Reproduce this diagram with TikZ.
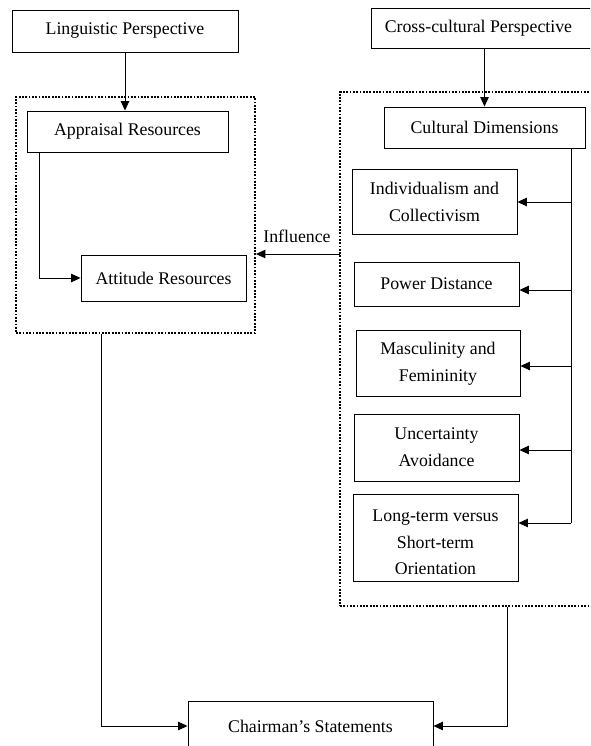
\documentclass[tikz,border=0pt]{standalone}
\usepackage{fontspec}
\setmainfont{Liberation Serif}
\usetikzlibrary{arrows.meta,calc}
\begin{document}
\begin{tikzpicture}[x=1pt,y=-1pt,
  box/.style={draw, line width=0.9pt, inner sep=0pt, align=center,
    font=\fontsize{17.8}{27}\selectfont},
  txt/.style={inner sep=0pt, align=center, font=\fontsize{17.8}{26.5}\selectfont},
  dotbox/.style={draw, line width=1.8pt, dash pattern=on 1.8pt off 1.5pt, inner sep=0pt},
  arr/.style={line width=0.9pt, -{Triangle[length=9.5pt,width=8.5pt]}},
  ln/.style={line width=0.9pt},
  lbl/.style={font=\fontsize{17.8}{21}\selectfont, inner sep=0pt}]
\useasboundingbox (0,0) rectangle (590,746);
\begin{scope}
\clip (0,0) rectangle (590,746);
% containers
\node[dotbox, minimum width=239pt, minimum height=236pt] (leftdot) at (135.5,215) {};
\node[dotbox, minimum width=280pt, minimum height=514pt] (rightdot) at (480,349) {};
% top boxes
\node[box, minimum width=226pt, minimum height=42pt] (ling) at (125,31) {Linguistic Perspective};
\node[box, minimum width=232pt, minimum height=40pt, anchor=west] (cross) at (371,28) {Cross-cultural Perspective\hspace*{18pt}};
% left group
\node[box, minimum width=201pt, minimum height=41pt] (appr) at (127.5,131.5) {Appraisal Resources};
\node[box, minimum width=165pt, minimum height=46pt] (att) at (163.5,278) {Attitude Resources};
% right group
\node[box, minimum width=201pt, minimum height=41pt] (cult) at (484.5,127.5) {Cultural Dimensions};
\node[box, minimum width=165pt, minimum height=65pt] (ind) at (434.5,201.5) {\rule{0pt}{14pt}Individualism and\\Collectivism};
\node[box, minimum width=165pt, minimum height=44pt] (pow) at (436.5,284) {Power Distance};
\node[box, minimum width=164pt, minimum height=66pt] (mas) at (438,363) {\rule{0pt}{14pt}Masculinity and\\Femininity};
\node[box, minimum width=165pt, minimum height=67pt] (unc) at (436.5,447.5) {Uncertainty\\Avoidance};
\node[box, minimum width=165pt, minimum height=87pt] (long) at (435.5,537.5) {};
\node[txt] (longtxt) at (435.5,542.5) {Long-term versus\\Short-term\\Orientation};
\fill[white] ($(long.south west)+(1,-0.6)$) rectangle ($(long.south east)+(-1,-7.8)$);
% bottom
\node[box, minimum width=245pt, minimum height=50pt] (chair) at (310.5,726) {Chairman’s Statements};
% connectors
\draw[arr] (ling.south) -- (ling.south |- appr.north);
\draw[arr] (cult.north |- cross.south) -- (cult.north);
\draw[arr] ($(appr.south west)+(13,0)$) |- (att.west);
\coordinate (inf) at (340,254);
\draw[arr] (inf) -- (inf -| leftdot.east);
\node[lbl] (inflbl) at (297,236) {Influence};
\coordinate (b1) at (571,202);
\coordinate (b2) at (571,290);
\coordinate (b3) at (571,366);
\coordinate (b4) at (571,450);
\coordinate (b5) at (571,523);
\draw[ln] (cult.south -| b1) -- (b5);
\draw[arr] (b1) -- (b1 -| ind.east);
\draw[arr] (b2) -- (b2 -| pow.east);
\draw[arr] (b3) -- (b3 -| mas.east);
\draw[arr] (b4) -- (b4 -| unc.east);
\draw[arr] (b5) -- (b5 -| long.east);
\coordinate (ll) at (101,726);
\coordinate (rr) at (507,726);
\draw[arr] (leftdot.south -| ll) |- (chair.west);
\draw[arr] (rightdot.south -| rr) |- (chair.east);
\end{scope}
\end{tikzpicture}
\end{document}
